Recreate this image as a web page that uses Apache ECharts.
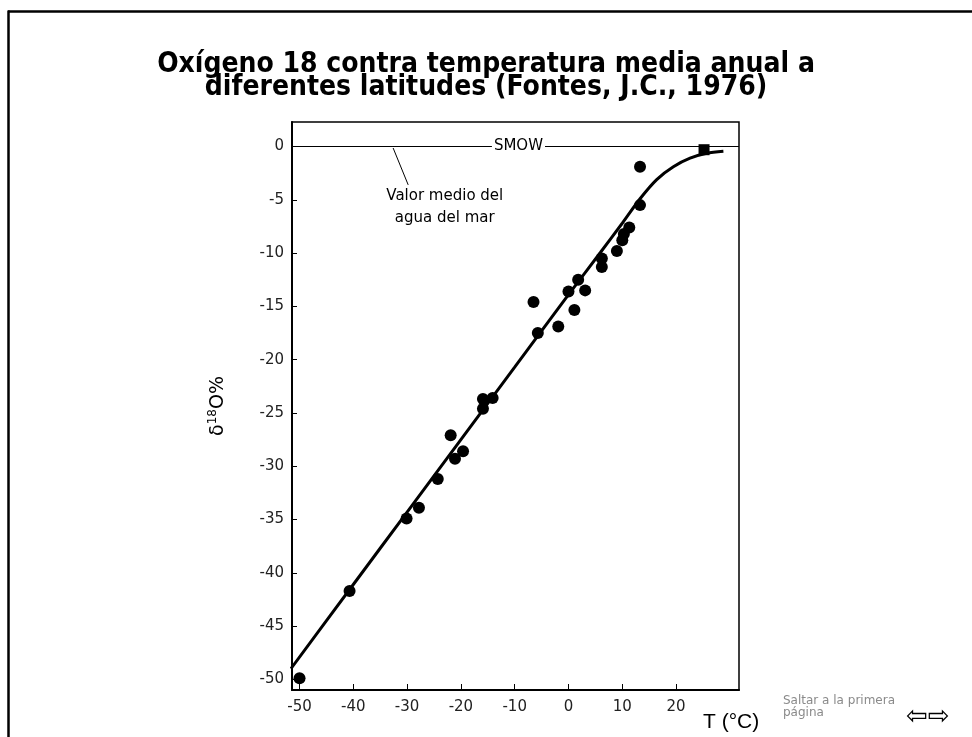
<!DOCTYPE html>
<html><head><meta charset="utf-8">
<script src="https://cdn.jsdelivr.net/npm/echarts@6/dist/echarts.min.js"></script>
<style>html,body{margin:0;padding:0;background:#fff}#c{width:972px;height:737px}</style>
</head><body><div id="c"></div>
<script>
const titleLines = ['Oxígeno 18 contra temperatura media anual a', 'diferentes latitudes (Fontes, J.C., 1976)'];
// Observed stations: mean annual temperature (°C) and δ18O (‰)
const tempC    = [-50.0, -40.7, -30.1, -27.8, -24.3, -21.9, -21.1, -19.6, -15.9, -15.9, -14.1, -6.5, -5.7, -1.9, 0.0, 1.1, 1.8, 3.1, 6.2, 6.2, 9.0, 10.0, 10.3, 11.3, 13.3, 13.3];
const delta18O = [-49.9, -41.7, -34.9, -33.9, -31.2, -27.1, -29.3, -28.6, -23.7, -24.6, -23.6, -14.6, -17.5, -16.9, -13.6, -15.35, -12.5, -13.5, -10.5, -11.3, -9.8, -8.8, -8.2, -7.6, -1.9, -5.5];
// Sea-water reference (square marker)
const seaT = [25.2];
const seaD = [-0.3];
// Fitted curve
const fitT = [-51.6, -40, -30, -20, -10, 0, 6, 10, 13.3, 16.4, 19.5, 22.6, 25.7, 28.8];
const fitD = [-49.0, -41.1, -34.3, -27.5, -20.7, -13.9, -9.9, -7.2, -4.9, -3.1, -1.9, -1.1, -0.64, -0.45];
// SMOW reference level and leader line
const smowLevel = 0;
const leaderT = [-32.6, -29.8];
const leaderD = [-0.14, -3.6];
const xTicks = [-50, -40, -30, -20, -10, 0, 10, 20];
const yTicks = [0, -5, -10, -15, -20, -25, -30, -35, -40, -45, -50];
const xRange = [-51.4, 31.7];
const yRange = [-51, 2.3];

const chart = echarts.init(document.getElementById('c'));
const tickFont = {fontFamily: 'DejaVu Sans', fontSize: 15, color: '#222'};
chart.setOption({
  backgroundColor: '#fff',
  animation: false,
  title: {
    text: titleLines.join('\n'),
    left: 'center', top: 48,
    textStyle: {fontFamily: "'Liberation Sans Narrow', 'DejaVu Sans Condensed', sans-serif", fontWeight: 'bold', fontSize: 28, lineHeight: 23, color: '#000'}
  },
  grid: {left: 292, right: 233, top: 122, bottom: 47, show: true, borderColor: '#000', borderWidth: 1.5},
  xAxis: {
    type: 'value', min: xRange[0], max: xRange[1],
    axisLine: {show: true, onZero: false, lineStyle: {color: '#000', width: 2}},
    axisTick: {show: true, inside: true, length: 6, customValues: xTicks, lineStyle: {color: '#000', width: 1}},
    axisLabel: Object.assign({customValues: xTicks, margin: 10}, tickFont),
    splitLine: {show: false},
    name: 'T (°C)', nameLocation: 'end', nameGap: -36,
    nameTextStyle: {fontFamily: 'Liberation Sans', fontSize: 21, color: '#000', align: 'left', verticalAlign: 'top', padding: [22, 0, 0, 0]}
  },
  yAxis: {
    type: 'value', min: yRange[0], max: yRange[1],
    axisLine: {show: true, onZero: false, lineStyle: {color: '#000', width: 2}},
    axisTick: {show: true, inside: true, length: 5, customValues: yTicks, lineStyle: {color: '#000', width: 1}},
    axisLabel: Object.assign({customValues: yTicks, margin: 8}, tickFont),
    splitLine: {show: false},
    name: '{a|δ}{s|18}{a|O%}', nameLocation: 'middle', nameGap: 64,
    nameTextStyle: {
      rich: {
        a: {fontFamily: 'DejaVu Sans', fontSize: 19, color: '#000', verticalAlign: 'bottom'},
        s: {fontFamily: 'DejaVu Sans', fontSize: 12, color: '#000', verticalAlign: 'bottom', padding: [0, 0, 9, 0]}
      }
    }
  },
  series: [
    {
      type: 'line', silent: true, symbol: 'none',
      data: xRange.map(t => [t, smowLevel]),
      lineStyle: {color: '#000', width: 1}, z: 1
    },
    {
      type: 'scatter', silent: true, symbolSize: 0,
      data: [[-9.3, smowLevel]],
      itemStyle: {opacity: 1},
      label: {show: true, position: 'inside', formatter: 'SMOW', fontFamily: 'DejaVu Sans', fontSize: 15, color: '#000', backgroundColor: '#fff', padding: [0, 2]},
      z: 2
    },
    {
      type: 'line', silent: true, symbol: 'none',
      data: leaderT.map((t, i) => [t, leaderD[i]]),
      lineStyle: {color: '#000', width: 1}, z: 1
    },
    {
      type: 'scatter', silent: true, symbolSize: 0,
      data: [[-23, -5.7]],
      itemStyle: {opacity: 1},
      label: {show: true, position: 'inside', formatter: 'Valor medio del\nagua del mar', fontFamily: 'DejaVu Sans', fontSize: 15, lineHeight: 21.6, color: '#000', align: 'center'},
      z: 2
    },
    {
      type: 'line', silent: true, symbol: 'none', smooth: 0.3,
      data: fitT.map((t, i) => [t, fitD[i]]),
      lineStyle: {color: '#000', width: 3}, z: 3
    },
    {
      type: 'scatter', silent: true, symbol: 'circle', symbolSize: 12,
      data: tempC.map((t, i) => [t, delta18O[i]]),
      itemStyle: {color: '#000', opacity: 1}, z: 4
    },
    {
      type: 'scatter', silent: true, symbol: 'rect', symbolSize: 11,
      data: seaT.map((t, i) => [t, seaD[i]]),
      itemStyle: {color: '#000', opacity: 1}, z: 4
    }
  ],
  graphic: [
    {type: 'line', shape: {x1: 8, y1: 11.5, x2: 972, y2: 11.5}, style: {stroke: '#000', lineWidth: 2.5}},
    {type: 'line', shape: {x1: 8.5, y1: 10.5, x2: 8.5, y2: 737}, style: {stroke: '#000', lineWidth: 2.5}},
    {type: 'text', left: 783, top: 695, style: {text: 'Saltar a la primera\npágina', fontFamily: 'DejaVu Sans', fontSize: 12, lineHeight: 12, fill: '#8a8a8a'}},
    {type: 'text', left: 906, top: 704, style: {text: '⇦⇨', fontFamily: 'DejaVu Sans', fontSize: 26, fill: '#000'}}
  ]
});
</script></body></html>
